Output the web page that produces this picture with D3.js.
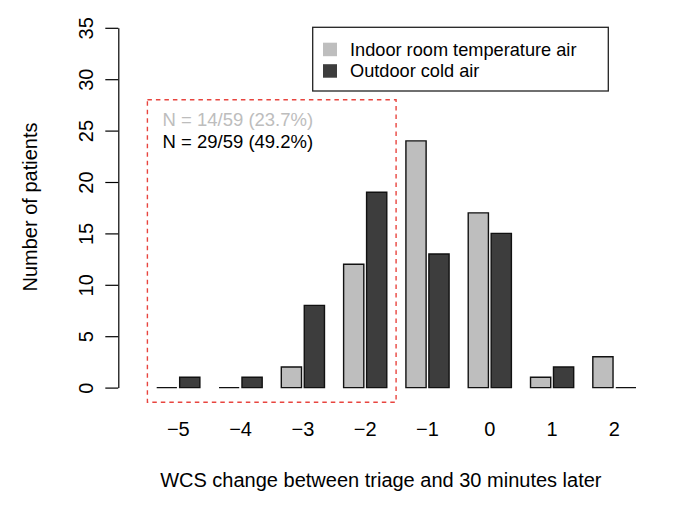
<!DOCTYPE html>
<html>
<head>
<meta charset="utf-8">
<script src="https://cdn.jsdelivr.net/npm/d3@7"></script>
<style>
  body { margin: 0; background: #fff; }
  svg text { font-family: "Liberation Sans", Arial, Helvetica, sans-serif; }
</style>
</head>
<body>
<div id="chart"></div>
<script>
// data
const categories = [-5, -4, -3, -2, -1, 0, 1, 2];
const tickLabels = ["\u22125", "\u22124", "\u22123", "\u22122", "\u22121", "0", "1", "2"];
const seriesNames = ["Indoor room temperature air", "Outdoor cold air"];
const indoor = [0, 0, 2, 12, 24, 17, 1, 3];
const outdoor = [1, 1, 8, 19, 13, 15, 2, 0];
const yTicks = [0, 5, 10, 15, 20, 25, 30, 35];
const noteLines = ["N = 14/59 (23.7%)", "N = 29/59 (49.2%)"];

const width = 680;
const height = 507;
const colors = ["#bebebe", "#3d3d3d"];

const svg = d3.select("#chart")
  .append("svg")
  .attr("width", width)
  .attr("height", height);

// scales
const yScale = d3.scaleLinear()
  .domain([0, 35])
  .range([387.6, 27.8]);

const xScale = d3.scaleBand()
  .domain(categories)
  .range([156.7, 636])
  .paddingInner(0.307)
  .paddingOuter(0);

const subScale = d3.scaleBand()
  .domain([0, 1])
  .range([0, xScale.bandwidth()])
  .paddingInner(0.12);

// y axis
const yAxis = svg.append("g")
  .attr("transform", "translate(118.3,0)")
  .call(d3.axisLeft(yScale).tickValues(yTicks).tickSize(13).tickSizeOuter(0));
yAxis.select(".domain").attr("stroke", "#000").attr("stroke-width", 1.2);
yAxis.selectAll(".tick line").attr("stroke", "#000").attr("stroke-width", 1.2);
yAxis.selectAll(".tick text")
  .attr("x", 0).attr("y", 0).attr("dy", 0)
  .attr("text-anchor", "middle")
  .attr("transform", "translate(-25.8,0) rotate(-90)")
  .attr("font-size", "20px")
  .attr("fill", "#000");

// x axis (labels only)
const xAxis = svg.append("g")
  .attr("transform", "translate(0,436)")
  .call(d3.axisBottom(xScale).tickSize(0).tickFormat((d, i) => tickLabels[i]));
xAxis.select(".domain").remove();
xAxis.selectAll(".tick text")
  .attr("y", 0).attr("dy", 0)
  .attr("font-size", "20px")
  .attr("fill", "#000");

// bars: drawn as paths so zero counts still show as a flat line
const bars = [];
categories.forEach((c, i) => {
  bars.push({cat: c, s: 0, v: indoor[i]});
  bars.push({cat: c, s: 1, v: outdoor[i]});
});

svg.selectAll(".bar")
  .data(bars)
  .enter()
  .append("path")
    .attr("class", "bar")
    .attr("d", d => {
      const x0 = xScale(d.cat) + subScale(d.s);
      const x1 = x0 + subScale.bandwidth();
      const y0 = yScale(0);
      const y1 = yScale(d.v);
      return `M${x0},${y0}H${x1}V${y1}H${x0}Z`;
    })
    .attr("fill", d => colors[d.s])
    .attr("stroke", "#111")
    .attr("stroke-width", 1.4);

// dashed highlight box around -5 .. -2
const boxPad = 0.46 * subScale.bandwidth();
const bx0 = xScale(-5) - boxPad;
const bx1 = xScale(-2) + xScale.bandwidth() + boxPad;
svg.append("rect")
  .attr("x", bx0)
  .attr("y", yScale(28))
  .attr("width", bx1 - bx0)
  .attr("height", yScale(-1.43) - yScale(28))
  .attr("fill", "none")
  .attr("stroke", "#e8453f")
  .attr("stroke-width", 1.4)
  .attr("stroke-dasharray", "4.5,4");

svg.selectAll(".note")
  .data(noteLines)
  .enter()
  .append("text")
    .attr("class", "note")
    .attr("x", 162.5)
    .attr("y", (d, i) => 126 + i * 22.3)
    .attr("font-size", "18.5px")
    .attr("fill", (d, i) => i === 0 ? "#bdbdbd" : "#000")
    .text(d => d);

// legend
const legend = svg.append("g");
legend.append("rect")
  .attr("x", 312.7).attr("y", 27.3)
  .attr("width", 295.6).attr("height", 63.7)
  .attr("fill", "#fff")
  .attr("stroke", "#222")
  .attr("stroke-width", 1.3);
seriesNames.forEach((name, i) => {
  legend.append("rect")
    .attr("x", 323).attr("y", 42.7 + i * 21.5)
    .attr("width", 14).attr("height", 13.5)
    .attr("fill", colors[i]);
  legend.append("text")
    .attr("x", 350).attr("y", 56.4 + i * 21)
    .attr("font-size", "18.2px")
    .attr("fill", "#000")
    .text(name);
});

// axis titles
svg.append("text")
  .attr("x", (160 + 601.7) / 2)
  .attr("y", 486.7)
  .attr("text-anchor", "middle")
  .attr("font-size", "20px")
  .text("WCS change between triage and 30 minutes later");

svg.append("text")
  .attr("transform", "translate(37,207) rotate(-90)")
  .attr("text-anchor", "middle")
  .attr("font-size", "20px")
  .text("Number of patients");
</script>
</body>
</html>
